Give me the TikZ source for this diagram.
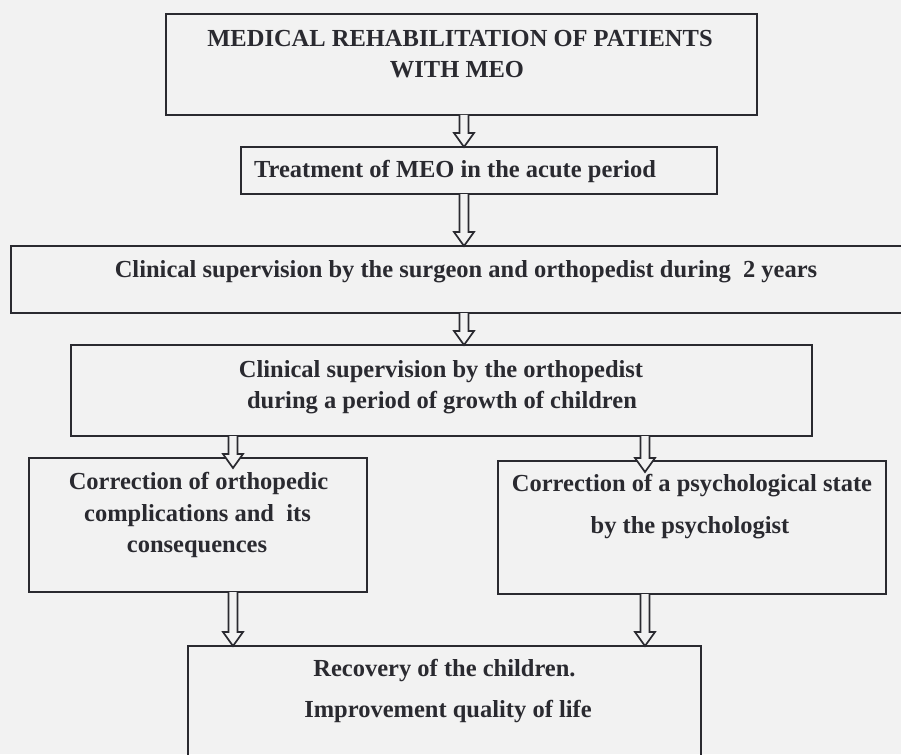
\documentclass[tikz,border=0pt]{standalone}
\usepackage{fontspec}
\setmainfont{Liberation Serif}
\usetikzlibrary{calc}
\definecolor{bg}{HTML}{F2F2F2}
\definecolor{ink}{HTML}{2A2A30}
\begin{document}
\begin{tikzpicture}[x=1pt,y=-1pt,
  box/.style={draw=ink, line width=1.8pt, rectangle, inner sep=0pt, outer sep=0pt},
  txt/.style={anchor=base, inner sep=0pt, text=ink, font=\fontsize{24.5}{29}\selectfont\bfseries},
  harrow/.style={draw=ink, fill=bg, line width=1.7pt, line join=miter,
    to path={let \p1=(\tikztostart), \p2=(\tikztotarget) in
      (\x1-4.5pt,\y1) -- (\x1-4.5pt,\y2+14pt) -- (\x1-10pt,\y2+14pt) -- (\x1,\y2)
      -- (\x1+10pt,\y2+14pt) -- (\x1+4.5pt,\y2+14pt) -- (\x1+4.5pt,\y1)}}]
\fill[bg] (0,0) rectangle (901,754);
\useasboundingbox (0,0) rectangle (901,754);

% boxes
\node[box, minimum width=591pt, minimum height=101pt] (b1) at (461.5,64.5) {};
\node[box, minimum width=476pt, minimum height=47pt]  (b2) at (479,170.5) {};
\node[box, minimum width=899pt, minimum height=67pt]  (b3) at (460.5,279.5) {};
\node[box, minimum width=741pt, minimum height=91pt]  (b4) at (441.5,390.5) {};
\node[box, minimum width=338pt, minimum height=134pt] (b5) at (198,525) {};
\node[box, minimum width=388pt, minimum height=133pt] (b6) at (692,527.5) {};
\node[box, minimum width=513pt, minimum height=114pt] (b7) at (444.5,703) {};

% texts
\node[txt] (t1a) at (460,47) {MEDICAL REHABILITATION OF PATIENTS};
\node[txt] (t1b) at (457,78) {WITH MEO};
\node[txt] (t2)  at (455,177) {Treatment of MEO in the acute period};
\node[txt] (t3)  at (466,277) {Clinical supervision by the surgeon and orthopedist during\ \ 2 years};
\node[txt] (t4a) at (441,377) {Clinical supervision by the orthopedist};
\node[txt] (t4b) at (442,408) {during a period of growth of children};
\node[txt] (t5a) at (198.5,489) {Correction of orthopedic};
\node[txt] (t5b) at (197.5,521) {complications and\ \ its};
\node[txt] (t5c) at (197,552) {consequences};
\node[txt] (t6a) at (692,491) {Correction of a psychological state};
\node[txt] (t6b) at (690,533) {by the psychologist};
\node[txt] (t7a) at (444.5,676) {Recovery of the children.};
\node[txt] (t7b) at (448,717) {Improvement quality of life};

% connector columns
\coordinate (cx) at (464,0);
\coordinate (lx) at (233,0);
\coordinate (rx) at (645,0);

% connectors
\draw[harrow] (b1.south -| cx) to (b2.north -| cx);
\draw[harrow] (b2.south -| cx) to (b3.north -| cx);
\draw[harrow] (b3.south -| cx) to (b4.north -| cx);
\draw[harrow] (b4.south -| lx) to ($(b5.north -| lx)+(0,10)$);
\draw[harrow] (b4.south -| rx) to ($(b6.north -| rx)+(0,11)$);
\draw[harrow] (b5.south -| lx) to (b7.north -| lx);
\draw[harrow] (b6.south -| rx) to (b7.north -| rx);
\end{tikzpicture}
\end{document}
